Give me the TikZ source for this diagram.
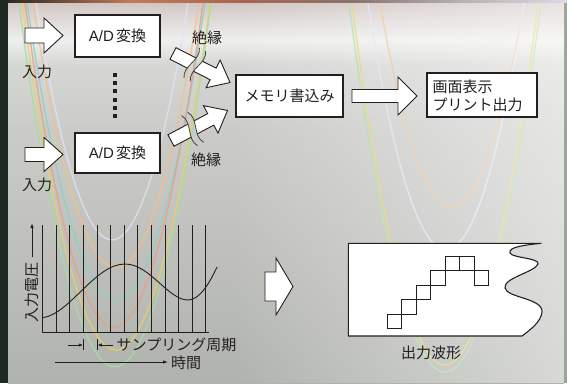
\documentclass[tikz,border=0pt]{standalone}
\usepackage{fontspec}
\setmainfont{Noto Sans CJK JP}
\newfontfamily\latinf{Liberation Sans}
\usetikzlibrary{arrows.meta,fadings}
\definecolor{ink}{HTML}{231F20}
\definecolor{bgdark}{HTML}{1E2A21}
\definecolor{rstrip}{HTML}{9AA49A}
\definecolor{pB}{HTML}{B0B3AD}
\definecolor{pc250}{HTML}{BFC0BC}
\definecolor{pc130}{HTML}{CBCBC8}
\definecolor{pc65}{HTML}{D6D6D4}
\definecolor{pc40}{HTML}{EFEFED}
\definecolor{pc20}{HTML}{DEDAD8}
\definecolor{pc3}{HTML}{D2C6C3}
\definecolor{t0}{HTML}{2A2A22}
\definecolor{t1}{HTML}{C27A5C}
\definecolor{t2}{HTML}{A86452}
\definecolor{t3}{HTML}{8A7470}
\definecolor{t4}{HTML}{B8B4B8}
\definecolor{t5}{HTML}{DADAE2}
\definecolor{cyel}{HTML}{E8D262}
\definecolor{csal}{HTML}{EC9C82}
\definecolor{ccya}{HTML}{88D2C6}
\definecolor{clav}{HTML}{E2E2F6}
\definecolor{corg}{HTML}{F2C08A}
\definecolor{cgrn}{HTML}{A6DCA6}
\pgfdeclareverticalshading{panelshade}{100bp}{color(0bp)=(pB); color(25bp)=(pB); color(42.5bp)=(pc250); color(58.3bp)=(pc130); color(66.8bp)=(pc65); color(70.1bp)=(pc40); color(72.8bp)=(pc20); color(75bp)=(pc3); color(100bp)=(pc3)}
\pgfdeclarehorizontalshading{topstrip}{100bp}{color(0bp)=(t0); color(25bp)=(t0); color(36bp)=(t1); color(46bp)=(t2); color(56bp)=(t3); color(66bp)=(t4); color(75bp)=(t5); color(100bp)=(t5)}
\tikzfading[name=fadeinright, left color=transparent!100, right color=transparent!0]
\tikzset{
  box/.style={draw=ink, line width=1.6pt, fill=white, inner sep=0pt},
  barrowsty/.style={draw=ink, line width=0.9pt, fill=white, line join=miter},
  lbl/.style={text=ink, font=\fontsize{15}{18}\selectfont, inner sep=0pt},
  vline/.style={draw=ink, line width=0.8pt},
  brk/.style={draw=ink!85, line width=0.8pt},
  sq/.style={draw=ink, line width=0.9pt},
  para/.style={line width=1.4pt, opacity=0.8},
  tipsty/.style={-{Latex[length=5pt,width=3.6pt]}},
  pics/barrow/.style n args={4}{code={
    \path[barrowsty] (0,-#2/2) -- ({#1-#4},-#2/2) -- ({#1-#4},-#3/2) -- (#1,0)
      -- ({#1-#4},#3/2) -- ({#1-#4},#2/2) -- (0,#2/2) -- cycle;}},
  pics/brokenarrow/.style={code={
    \begin{scope}
      \clip (21,-17) .. controls (28,-6) and (14,6) .. (21,17) -- (21,40) -- (-20,40) -- (-20,-40) -- (21,-40) -- cycle;
      \path[barrowsty] (0,-6.5) -- (45,-6.5) -- (45,-15.5) -- (64,0) -- (45,15.5) -- (45,6.5) -- (0,6.5) -- cycle;
    \end{scope}
    \begin{scope}
      \clip (28,-17) .. controls (35,-6) and (21,6) .. (28,17) -- (28,40) -- (90,40) -- (90,-40) -- (28,-40) -- cycle;
      \path[barrowsty] (0,-6.5) -- (45,-6.5) -- (45,-15.5) -- (64,0) -- (45,15.5) -- (45,6.5) -- (0,6.5) -- cycle;
    \end{scope}
    \path[brk] (21,-17) .. controls (28,-6) and (14,6) .. (21,17);
    \path[brk] (28,-17) .. controls (35,-6) and (21,6) .. (28,17);}}
}
\begin{document}
\begin{tikzpicture}[x=1pt,y=-1pt]
% ---------- background ----------
\fill[bgdark] (0,0) rectangle (567,383);
\shade[shading=topstrip] (8,0) rectangle (567,3);
\fill[rstrip] (564,3) rectangle (567,383);
\shade[shading=panelshade] (8,3) rectangle (564,383);
\begin{scope}
  \clip (8,3) rectangle (564,383);
  \draw[para, clav] (36,3) parabola bend (112,240) (188,3);
  \draw[para, corg] (33,3) parabola bend (116,268) (199,3);
  \draw[para, ccya] (27,3) parabola bend (116,300) (205,3);
  \draw[para, csal] (25,3) parabola bend (114,327) (203,3);
  \draw[para, cyel] (22,3) parabola bend (116,350) (210,3);
  \draw[para, cgrn] (19,3) parabola bend (115,367) (211,3);
  \draw[para, corg] (380,3) parabola bend (452,207) (524,3);
  \draw[para, clav] (368,3) parabola bend (446,250) (524,3);
  \draw[para, cyel] (352,3) parabola bend (445,365) (538,3);
  \draw[para, cgrn] (349,3) parabola bend (445,372) (541,3);
\end{scope}
\fill[white, opacity=0.5, path fading=fadeinright] (230,3) rectangle (564,383);
% ---------- upper block diagram ----------
\pic at (25,35.5) {barrow={38}{15}{35}{19}};
\pic at (25,154.5) {barrow={38}{14}{34}{19}};
\node[lbl] (in1) at (37,72) {入力};
\node[lbl] (in2) at (37,185) {入力};
\node[box, minimum width=85pt, minimum height=42pt] (ad1) at (117.5,36) {};
\node[lbl] (ad1t) at (ad1.center) {{\latinf A/D}\hspace{0.15em}変換};
\node[box, minimum width=85pt, minimum height=40pt] (ad2) at (117.5,153) {};
\node[lbl] (ad2t) at (ad2.center) {{\latinf A/D}\hspace{0.15em}変換};
\foreach \y in {75,83.2,91.4,99.6,107.8,116}
  \fill[ink] (112.7,{\y-2}) rectangle ++(4,4);
\node[lbl] (iso1) at (207,38) {絶縁};
\node[lbl] (iso2) at (206,160) {絶縁};
\pic[rotate=-27] at (173,53.5) {brokenarrow};
\pic[rotate=28] at (171,140.5) {brokenarrow};
\node[box, minimum width=107pt, minimum height=42pt] (mem) at (289.5,96) {};
\node[lbl] (memt) at (mem.center) {メモリ書込み};
\pic at (352,96) {barrow={65}{13}{38}{19}};
\node[box, minimum width=110pt, minimum height=44pt] (out) at (482,95) {};
\node[lbl, anchor=west, align=left] (outt) at (432.5,95.5) {画面表示\\プリント出力};
% ---------- sampling plot ----------
\foreach \i in {0,...,12}
  \draw[vline] ({42.7+13.58*\i},225) -- ({42.7+13.58*\i},332);
\draw[ink, line width=1.8pt] (42,332.5) -- (209,332.5);
\draw[ink, line width=0.9pt] (42.7,317.7) .. controls (70,314) and (95,264) .. (125,264)
  .. controls (150,264) and (168,300) .. (188,300) .. controls (200,300) and (210,282) .. (217,267);
\node[lbl, rotate=90] (vlab) at (32,292) {入力電圧};
\coordinate (vA) at (32,257);
\coordinate (vB) at (32,223);
\draw[ink, line width=0.9pt, tipsty] (vA) -- (vB);
\coordinate (s1) at (68,345);
\coordinate (s2) at (83.3,345);
\coordinate (s3) at (113,345);
\coordinate (s4) at (97.3,345);
\draw[ink, line width=0.9pt, -{Latex[length=4.5pt,width=3.4pt]}] (s1) -- (s2);
\draw[ink, line width=0.9pt, -{Latex[length=4.5pt,width=3.4pt]}] (s3) -- (s4);
\draw[ink, line width=0.9pt] (83.3,339) -- (83.3,350) (97.3,339) -- (97.3,350);
\node[lbl, anchor=west] (samp) at (116.5,345) {サンプリング周期};
\coordinate (tA) at (55,362);
\coordinate (tB) at (168,362);
\draw[ink, line width=0.9pt, tipsty] (tA) -- (tB);
\node[lbl, anchor=west] (time) at (171,363) {時間};
% ---------- conversion arrow ----------
\pic at (265,286.5) {barrow={28}{29}{57}{17}};
% ---------- output waveform ----------
\draw[ink, line width=1.1pt, fill=white, line join=round] (348.3,243.3) -- (541,243.3)
  .. controls (525,245) and (508,247) .. (510,253)
  .. controls (512,258) and (540,258) .. (538,264)
  .. controls (535,272) and (503,278) .. (505,288)
  .. controls (507,298) and (543,298) .. (542,312)
  .. controls (541,322) and (530,330) .. (522,336) -- (348.3,336) -- cycle;
\foreach \x/\y in {387/314,401.5/299.5,416/285,430.5/270.5,445/256,459.5/256,474/270.5}
  \draw[sq] (\x,\y) rectangle ++(14.5,14.5);
\node[lbl] (outlab) at (431,353) {出力波形};
\end{tikzpicture}
\end{document}
